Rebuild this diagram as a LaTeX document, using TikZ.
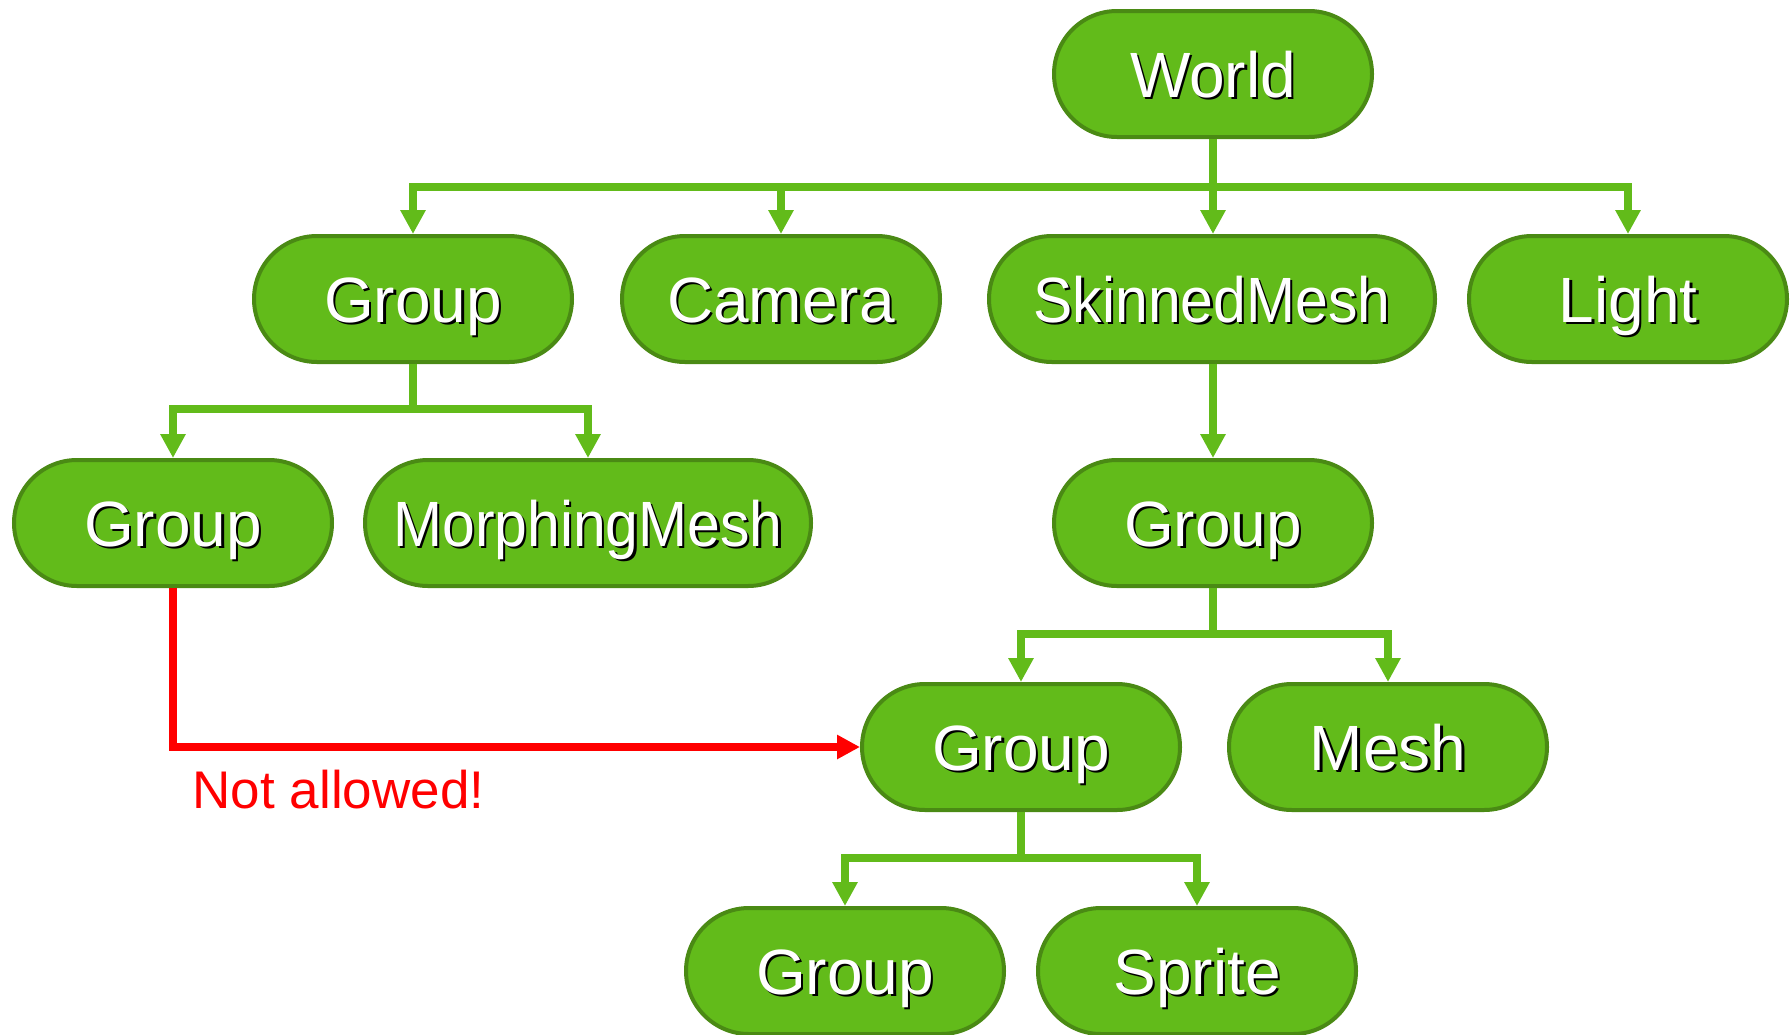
\documentclass[tikz,border=0pt]{standalone}
\usepackage{fontspec}
\setmainfont{Liberation Sans}
\usetikzlibrary{arrows.meta}
\definecolor{gfill}{RGB}{98,187,26}
\definecolor{gline}{RGB}{74,138,20}
\definecolor{garr}{RGB}{98,187,26}
\newcommand\shtext[1]{\makebox[0pt][l]{\hspace{2.5pt}\raisebox{-2.5pt}{\color{black}#1}}#1}
\newcommand\shnarrow[1]{\scalebox{0.92}[1]{\shtext{#1}}}
\tikzset{
  box/.style={draw=gline, fill=gfill, line width=4pt, rounded corners=63pt,
    minimum width=318pt, minimum height=126pt, inner sep=0pt,
    text=white, font=\fontsize{64}{70}\selectfont, text height=46pt, text depth=0pt},
  widebox/.style={box, minimum width=446pt},
  arr/.style={draw=garr, line width=8pt, -{Triangle[length=24pt,width=24pt]}},
  bad/.style={draw=red, line width=8pt, -{Triangle[length=23pt,width=23pt]}},
}
\begin{document}
\begin{tikzpicture}[x=1pt,y=-1pt]
\useasboundingbox[fill=white] (0,0) rectangle (1792,1034);
\node[box] (world) at (1213,74) {\shtext{World}};
\node[box] (groupA) at (413,299) {\shtext{Group}};
\node[box] (camera) at (781,299) {\shtext{Camera}};
\node[widebox] (skinned) at (1212,299) {\shnarrow{SkinnedMesh}};
\node[box] (light) at (1628,299) {\shtext{Light}};
\node[box] (groupB) at (173,523) {\shtext{Group}};
\node[widebox] (morph) at (588,523) {\shnarrow{MorphingMesh}};
\node[box] (groupC) at (1213,523) {\shtext{Group}};
\node[box] (groupD) at (1021,747) {\shtext{Group}};
\node[box] (mesh) at (1388,747) {\shtext{Mesh}};
\node[box] (groupE) at (845,971) {\shtext{Group}};
\node[box] (sprite) at (1197,971) {\shtext{Sprite}};

\draw[arr] (world.south) -- ++(0,48) -| (groupA.north);
\draw[arr] (world.south) -- ++(0,48) -| (camera.north);
\draw[arr] (world.south) -- (world.south |- skinned.north);
\draw[arr] (world.south) -- ++(0,48) -| (light.north);

\draw[arr] (groupA.south) -- ++(0,45) -| (groupB.north);
\draw[arr] (groupA.south) -- ++(0,45) -| (morph.north);

\draw[arr] (skinned.south -| groupC.north) -- (groupC.north);

\draw[arr] (groupC.south) -- ++(0,46) -| (groupD.north);
\draw[arr] (groupC.south) -- ++(0,46) -| (mesh.north);

\draw[arr] (groupD.south) -- ++(0,46) -| (groupE.north);
\draw[arr] (groupD.south) -- ++(0,46) -| (sprite.north);

\draw[bad] (groupB.south) |- (groupD.west);
\node[anchor=base, text=red, font=\fontsize{53}{60}\selectfont, inner sep=0pt] (na) at (338.5,808) {Not allowed!};
\end{tikzpicture}
\end{document}
